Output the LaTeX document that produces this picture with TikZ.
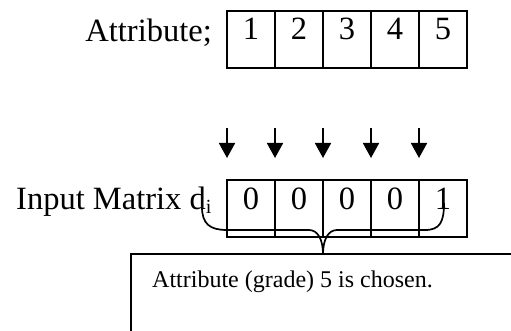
\documentclass[tikz,border=0pt]{standalone}
\usepackage{fontspec}
\setmainfont{Liberation Serif}
\usetikzlibrary{arrows.meta,calc}
\begin{document}
\begin{tikzpicture}[x=1pt,y=-1pt,
  cell/.style={draw, line width=1.8pt, minimum width=48pt, inner sep=0pt,
    outer sep=0pt, text height=29pt, text depth=28pt,
    font=\fontsize{32.5}{38}\selectfont},
  bigtext/.style={inner sep=0pt, font=\fontsize{32.5}{38}\selectfont},
  smalltext/.style={inner sep=0pt, font=\fontsize{24}{28}\selectfont},
  pointer/.style={line width=1.8pt, -{Triangle[width=16pt,length=15pt]}},
  brace/.style={line width=1.7pt, line join=round},
  notebox/.style={draw, line width=1.7pt, inner sep=0pt, outer sep=0pt,
    minimum width=420pt, minimum height=110pt, anchor=north west}]
\useasboundingbox (0,0) rectangle (511,331);
\clip (0,0) rectangle (511,331);

% attribute row
\node[cell, anchor=north west] (a1) at (227,11) {1};
\foreach \i [count=\j from 1] in {2,...,5}
  \node[cell, anchor=west] (a\i) at (a\j.east) {\i};
\node[bigtext, anchor=base east] (alabel) at (212,42) {Attribute;};

% input matrix row
\node[cell, anchor=north west] (b1) at (227,180) {0};
\foreach \i/\v [count=\j from 1] in {2/0,3/0,4/0,5/1}
  \node[cell, anchor=west] (b\i) at (b\j.east) {\v};
\node[bigtext, anchor=base west] (blabel) at (16,210)
  {Input Matrix d\raisebox{-4pt}{\fontsize{20}{20}\selectfont i}};

% downward pointers at the cell edges
\foreach \i in {1,...,5} {
  \coordinate (s\i) at ($(b\i.north west)+(0,-52)$);
  \coordinate (t\i) at ($(b\i.north west)+(0,-22)$);
  \draw[pointer] (s\i) -- (t\i);
}

% explanation box
\node[notebox] (note) at (131,254) {};
\node[smalltext, anchor=base west] (notetext) at ($(note.north west)+(21,33)$)
  {Attribute (grade) 5 is chosen.};

% curly brace gathering the row into the box
\coordinate (bl) at (202,207);
\coordinate (bt) at (323,254);
\coordinate (br) at (444,203);
\draw[brace] (bl) .. controls (202,224) and (210,230) .. (227,230)
  -- (309,230) .. controls (318,230) and (323,240) .. (bt)
  .. controls (323,240) and (328,230) .. (337,230)
  -- (425,230) .. controls (440,230) and (444,222) .. (br);
\end{tikzpicture}
\end{document}
